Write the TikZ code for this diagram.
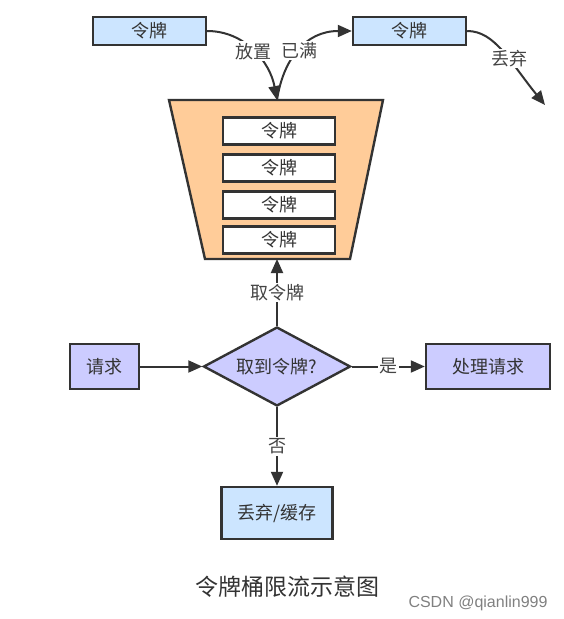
\documentclass[tikz,border=0pt]{standalone}
\usepackage{fontspec}
\setmainfont{Noto Sans CJK SC}
\newfontfamily\markfont{Liberation Sans}
\usetikzlibrary{shapes,arrows,positioning,calc,arrows.meta}
\definecolor{tokblue}{HTML}{CCE5FF}
\definecolor{lav}{HTML}{CCCCFF}
\definecolor{bucketfill}{HTML}{FFCC99}
\definecolor{edge}{HTML}{333333}
\definecolor{lbltext}{HTML}{444444}

\begin{document}
\begin{tikzpicture}[x=1pt, y=-1pt,
    font=\fontsize{18}{21}\selectfont,
    box/.style={draw=edge, line width=2.4pt, text=edge, inner sep=0pt},
    tok/.style={box, fill=tokblue, minimum width=113pt, minimum height=28pt},
    slot/.style={box, fill=white, minimum width=112pt, minimum height=27pt},
    proc/.style={box, fill=lav, minimum height=45pt},
    lbl/.style={fill=white, text=lbltext, inner sep=1.5pt},
    flow/.style={draw=edge, line width=2pt, -{Triangle[length=14pt,width=12pt]}}]
    \useasboundingbox (0,0) rectangle (564,619);

    % Bucket with tokens
    \draw[draw=edge, line width=2.4pt, fill=bucketfill] (169,100) -- (383,100) -- (350,259) -- (205,259) -- cycle;
    \coordinate (btop) at (277,100);
    \coordinate (bbot) at (277,259);
    \foreach \y/\n in {131/1,168/2,205/3,240/4}
        \node[slot] (slot\n) at (279,\y) {令牌};

    % Tokens coming in / overflow
    \node[tok] (tokin) at (149.5,31) {令牌};
    \node[tok] (tokout) at (409.5,31) {令牌};
    \coordinate (gone) at (545,105);
    \draw[flow] (tokin.east) .. controls (245,31) and (270,62) .. (btop) node[lbl, pos=0.5] {放置};
    \draw[flow] (btop) .. controls (283,60) and (305,31) .. (tokout.west) node[lbl, pos=0.5] {已满};
    \draw[flow] (tokout.east) .. controls (495,31) and (510,62) .. (gone) node[lbl, pos=0.58] {丢弃};

    % Request flow
    \node[proc, minimum width=69pt] (req) at (104.5,366.5) {请求};
    \node[box, diamond, aspect=1.86, fill=lav, minimum width=147pt, minimum height=79pt] (dec) at (277,366.5) {取到令牌?};
    \node[proc, minimum width=124pt] (handle) at (488,366.5) {处理请求};
    \node[tok, minimum width=111pt, minimum height=52pt] (drop) at (277,513) {丢弃/缓存};
    \draw[flow] (req) -- (dec);
    \draw[flow] (dec) -- node[lbl] {是} (handle);
    \draw[flow] (dec) -- node[lbl] {否} (drop);
    \draw[flow] (dec) -- node[lbl] {取令牌} (bbot);

    % Caption
    \node[text=edge, font=\fontsize{23}{27}\selectfont] (title) at (287,587) {令牌桶限流示意图};
    \node[text=gray, font=\markfont\fontsize{16}{19}\selectfont] (mark) at (478,603) {CSDN @qianlin999};
\end{tikzpicture}
\end{document}
